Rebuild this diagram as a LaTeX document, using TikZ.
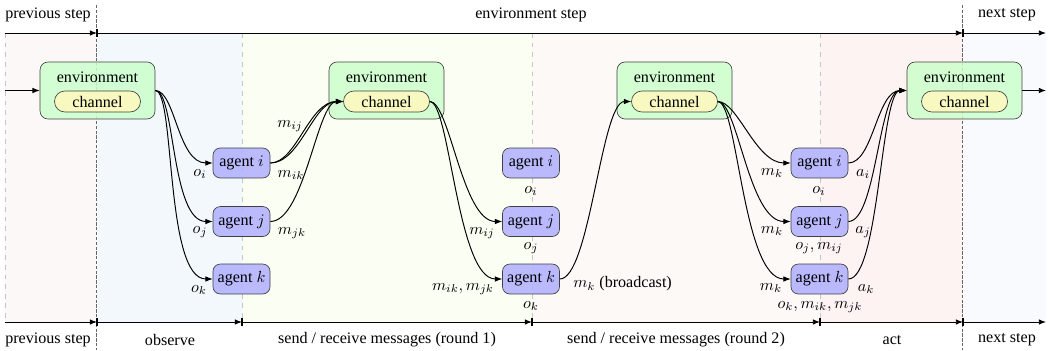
\documentclass[tikz,border=0pt]{standalone}
\usepackage{fontspec}
\setmainfont{Liberation Serif}
\usetikzlibrary{arrows.meta}
\definecolor{envfill}{HTML}{CCFFCC}
\definecolor{chanfill}{HTML}{FDF8C0}
\definecolor{agentfill}{HTML}{B3B3FF}
\definecolor{bgprev}{HTML}{FDF8F8}
\definecolor{bgobs}{HTML}{F2F8FC}
\definecolor{bgrone}{HTML}{FBFEF2}
\definecolor{bgrtwo}{HTML}{FCF9F7}
\definecolor{bgact}{HTML}{FEF3F3}
\definecolor{bgnext}{HTML}{F9FAFE}
\begin{document}
\begin{tikzpicture}[x=0.6211pt,y=-0.6211pt,
  envbox/.style={draw=black!75, fill=envfill, fill opacity=0.85, text opacity=1, rounded corners=5pt, minimum width=71.4pt, minimum height=35.4pt, inner sep=0pt},
  chanbox/.style={draw=black!75, fill=chanfill, fill opacity=0.9, text opacity=1, rounded corners=6.4pt, minimum width=53.4pt, minimum height=13pt, inner sep=0pt},
  agentbox/.style={draw=black!75, fill=agentfill, fill opacity=0.9, text opacity=1, rounded corners=4.5pt, minimum width=35.4pt, minimum height=18.6pt, inner sep=0pt},
  lbl/.style={inner sep=0pt},
  flow/.style={line width=0.6pt, -{Latex[length=4.5pt,width=3.5pt]}},
  tline/.style={line width=0.6pt, -{Latex[length=4.5pt,width=3.5pt]}},
  tick/.style={line width=0.8pt},
  phase/.style={gray!45, dashed, line width=0.5pt},
  stepline/.style={draw=black!60, double=white, double distance=0.6pt, line width=0.5pt, dash pattern=on 2pt off 1pt}
]
\useasboundingbox (0,0) rectangle (1048,350);

% backgrounds
\fill[bgprev] (5,33) rectangle (97,322);
\fill[bgobs] (97,33) rectangle (242,322);
\fill[bgrone] (242,33) rectangle (532,322);
\fill[bgrtwo] (532,33) rectangle (820,322);
\fill[bgact] (820,33) rectangle (963,322);
\fill[bgnext] (963,33) rectangle (1046,322);

% phase separators
\draw[phase] (5,33) -- (5,322);
\draw[phase] (242,33) -- (242,322);
\draw[phase] (532,33) -- (532,322);
\draw[phase] (820,33) -- (820,322);

% step boundaries
\draw[stepline] (97,5) -- (97,350);
\draw[stepline] (963,5) -- (963,350);

% top timeline
\coordinate (tl0) at (5,33);
\coordinate (tl1) at (97,33);
\coordinate (tl2) at (963,33);
\coordinate (tl3) at (1046,33);
\draw[tline] (tl0) -- (tl1);
\draw[tline] (tl1) -- (tl2);
\draw[tline] (tl2) -- (tl3);
\node[lbl] (tprev) at (48,15) {previous step};
\node[lbl] (tenv) at (531,15) {environment step};
\node[lbl] (tnext) at (1007,15) {next step};

% bottom timeline
\coordinate (bl0) at (5,322);
\coordinate (bl1) at (97,322);
\coordinate (bl2) at (242,322);
\coordinate (bl3) at (532,322);
\coordinate (bl4) at (820,322);
\coordinate (bl5) at (963,322);
\coordinate (bl6) at (1046,322);
\draw[tline] (bl0) -- (bl1);
\draw[tline] (bl1) -- (bl2);
\draw[tline] (bl2) -- (bl3);
\draw[tline] (bl3) -- (bl4);
\draw[tline] (bl4) -- (bl5);
\draw[tline] (bl5) -- (bl6);
\foreach \t in {bl1,bl2,bl3,bl4,bl5} {\draw[tick] (\t) ++(0,-4) -- ++(0,8);}
\draw[tick] (tl1) ++(0,-4) -- ++(0,8);
\draw[tick] (tl2) ++(0,-4) -- ++(0,8);
\node[lbl] (bprev) at (48,340) {previous step};
\node[lbl] (bobs) at (170,340) {observe};
\node[lbl] (bone) at (387,340) {send / receive messages (round 1)};
\node[lbl] (btwo) at (676,340) {send / receive messages (round 2)};
\node[lbl] (bact) at (892,340) {act};
\node[lbl] (bnext) at (1007,340) {next step};

% environments
\foreach \n/\x in {1/97.5,2/386.5,3/674.5,4/964.5} {
  \node[envbox] (e\n) at (\x,90.5) {};
  \node[lbl] (et\n) at (\x,77) {environment};
  \node[chanbox] (c\n) at (\x,101.5) {channel};
}

% agents
\foreach \c/\x in {1/241.5,2/531,3/819.5} {
  \node[agentbox] (a\c i) at (\x,163) {agent $i$};
  \node[agentbox] (a\c j) at (\x,221.5) {agent $j$};
  \node[agentbox] (a\c k) at (\x,279) {agent $k$};
}

% input / output of environment
\coordinate (ein) at (5,90.5);
\coordinate (eout) at (1046,90.5);
\draw[flow] (ein) -- (e1.west);
\draw[flow] (e4.east) -- (eout);

% observe
\draw[flow] (e1.east) .. controls +(20,0) and +(-35,0) .. (a1i.west);
\draw[flow] (e1.east) .. controls +(20,0) and +(-42,0) .. (a1j.west);
\draw[flow] (e1.east) .. controls +(20,0) and +(-48,0) .. (a1k.west);
\node[lbl] (loi) at (200,174) {$o_i$};
\node[lbl] (loj) at (200,232) {$o_j$};
\node[lbl] (lok) at (199,290) {$o_k$};

% round 1 send
\draw[flow] (a1i.east) .. controls +(30,0) and +(-30,0) .. (c2.west);
\draw[flow] (a1i.east) .. controls +(26,0) and +(-34,0) .. (c2.west);
\draw[flow] (a1j.east) .. controls +(34,0) and +(-26,0) .. (c2.west);
\node[lbl] (lmij) at (290,126) {$m_{ij}$};
\node[lbl] (lmik) at (291,175) {$m_{ik}$};
\node[lbl] (lmjk) at (292,233) {$m_{jk}$};

% round 1 receive
\draw[flow] (c2.east) .. controls +(20,0) and +(-40,0) .. (a2j.west);
\draw[flow] (c2.east) .. controls +(20,0) and +(-45,0) .. (a2k.west);
\node[lbl] (lrmij) at (482,233) {$m_{ij}$};
\node[lbl] (lrmk) at (463,289) {$m_{ik}, m_{jk}$};
\node[lbl] (lroi) at (531,191) {$o_i$};
\node[lbl] (lroj) at (531,248) {$o_j$};
\node[lbl] (lrok) at (531,306) {$o_k$};

% round 2 send
\draw[flow] (a2k.east) .. controls +(30,0) and +(-30,0) .. (c3.west);
\node[lbl, anchor=west] (lbc) at (573,284) {$m_k$ (broadcast)};

% round 2 receive
\draw[flow] (c3.east) .. controls +(20,0) and +(-35,0) .. (a3i.west);
\draw[flow] (c3.east) .. controls +(20,0) and +(-42,0) .. (a3j.west);
\draw[flow] (c3.east) .. controls +(20,0) and +(-48,0) .. (a3k.west);
\node[lbl] (lmki) at (772,173) {$m_k$};
\node[lbl] (lmkj) at (772,231) {$m_k$};
\node[lbl] (lmkk) at (771,288) {$m_k$};
\node[lbl] (lsoi) at (819,191) {$o_i$};
\node[lbl] (lsoj) at (819,248) {$o_j, m_{ij}$};
\node[lbl] (lsok) at (820,307) {$o_k, m_{ik}, m_{jk}$};

% act
\draw[flow] (a3i.east) .. controls +(25,0) and +(-30,0) .. (e4.west);
\draw[flow] (a3j.east) .. controls +(28,0) and +(-28,0) .. (e4.west);
\draw[flow] (a3k.east) .. controls +(31,0) and +(-26,0) .. (e4.west);
\node[lbl] (lai) at (863,174) {$a_i$};
\node[lbl] (laj) at (863,232) {$a_j$};
\node[lbl] (lak) at (866,289) {$a_k$};
\end{tikzpicture}
\end{document}
